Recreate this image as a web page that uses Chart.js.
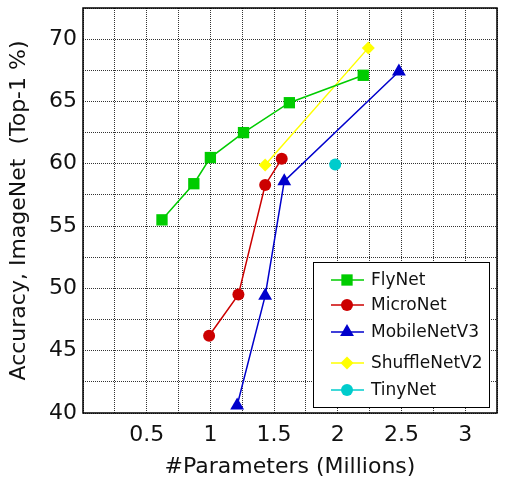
<!DOCTYPE html>
<html>
<head>
<meta charset="utf-8">
<script src="https://cdn.jsdelivr.net/npm/chart.js@4"></script>
<style>
  html, body { margin: 0; padding: 0; background: #ffffff; }
  #wrap { width: 505px; height: 481px; }
</style>
</head>
<body>
<div id="wrap"><canvas id="chart" width="505" height="481"></canvas></div>
<script>
// Data
const seriesNames = ['FlyNet', 'MicroNet', 'MobileNetV3', 'ShuffleNetV2', 'TinyNet'];

const flynetParams = [0.62, 0.87, 1.0, 1.26, 1.62, 2.2];
const flynetAcc = [55.5, 58.4, 60.5, 62.5, 64.9, 67.1];

const micronetParams = [0.99, 1.22, 1.43, 1.56];
const micronetAcc = [46.2, 49.5, 58.3, 60.4];

const mobilenetParams = [1.21, 1.43, 1.58, 2.48];
const mobilenetAcc = [40.6, 49.4, 58.6, 67.4];

const shufflenetParams = [1.43, 2.24];
const shufflenetAcc = [59.9, 69.3];

const tinynetParams = [1.98];
const tinynetAcc = [59.95];

const xTickLabels = [0.5, 1, 1.5, 2, 2.5, 3];
const yTickLabels = [40, 45, 50, 55, 60, 65, 70];

(function() {
  'use strict';

  const FONT = 'DejaVu Sans';

  function toPoints(xs, ys) {
    return xs.map((x, i) => ({ x: x, y: ys[i] }));
  }

  function makeSeries(label, xs, ys, color, style, radius) {
    return {
      label: label,
      data: toPoints(xs, ys),
      showLine: true,
      borderColor: color,
      backgroundColor: color,
      borderWidth: 1.5,
      pointStyle: style,
      pointRadius: radius,
      pointHoverRadius: radius,
      pointBorderWidth: 0,
      pointBackgroundColor: color,
      tension: 0
    };
  }

  // Frame around the plot area + MATLAB-like legend (line with marker)
  const framePlugin = {
    id: 'frameAndLegend',
    afterDraw(chart) {
      const ctx = chart.ctx;
      const a = chart.chartArea;
      ctx.save();
      ctx.strokeStyle = '#000000';
      ctx.lineWidth = 1.5;
      ctx.strokeRect(a.left, a.top, a.right - a.left, a.bottom - a.top);

      // legend box
      const bx = 313, by = 262, bw = 176, bh = 145;
      ctx.fillStyle = '#ffffff';
      ctx.fillRect(bx, by, bw, bh);
      ctx.lineWidth = 1;
      ctx.strokeRect(bx + 0.5, by + 0.5, bw, bh);

      const rowY = [280, 305, 332, 363, 390];
      ctx.font = '17px "' + FONT + '"';
      ctx.textBaseline = 'middle';
      ctx.textAlign = 'left';
      chart.data.datasets.forEach((ds, i) => {
        const y = rowY[i];
        ctx.strokeStyle = ds.borderColor;
        ctx.lineWidth = 1.5;
        ctx.beginPath();
        ctx.moveTo(331, y);
        ctx.lineTo(364, y);
        ctx.stroke();
        ctx.fillStyle = ds.backgroundColor;
        Chart.helpers.drawPoint(ctx, {
          pointStyle: ds.pointStyle,
          radius: ds.pointRadius,
          rotation: 0,
          borderWidth: 0
        }, 347, y);
        ctx.fillStyle = '#111111';
        ctx.fillText(ds.label, 371, y + 1);
      });
      ctx.restore();
    }
  };

  const gridStyle = {
    color: 'rgba(0,0,0,0.8)',
    lineWidth: 1,
    drawTicks: false
  };

  const ctx = document.getElementById('chart').getContext('2d');
  new Chart(ctx, {
    type: 'scatter',
    data: {
      datasets: [
        makeSeries(seriesNames[0], flynetParams, flynetAcc, '#00cc00', 'rect', 8),
        makeSeries(seriesNames[1], micronetParams, micronetAcc, '#cc0000', 'circle', 6),
        makeSeries(seriesNames[2], mobilenetParams, mobilenetAcc, '#0000cc', 'triangle', 8),
        makeSeries(seriesNames[3], shufflenetParams, shufflenetAcc, '#ffff00', 'rectRot', 6.5),
        makeSeries(seriesNames[4], tinynetParams, tinynetAcc, '#00cccc', 'circle', 6)
      ]
    },
    options: {
      responsive: false,
      animation: false,
      layout: { padding: { top: 7, right: 8, left: 0, bottom: 0 } },
      plugins: {
        legend: { display: false },
        tooltip: { enabled: false }
      },
      scales: {
        x: {
          type: 'linear',
          min: 0,
          max: 3.25,
          afterFit(scale) {
            scale.height = 68;
            scale.paddingLeft = 0;
            scale.paddingRight = 0;
          },
          border: { display: false, dash: [1, 1] },
          grid: Object.assign({}, gridStyle),
          ticks: {
            stepSize: 0.25,
            autoSkip: false,
            maxRotation: 0,
            padding: 9,
            color: '#111111',
            font: { family: FONT, size: 22 },
            callback: (v) => xTickLabels.some(t => Math.abs(t - v) < 1e-6) ? String(v) : ''
          },
          title: {
            display: true,
            text: '#Parameters (Millions)',
            color: '#111111',
            font: { family: FONT, size: 22 },
            padding: { top: 0, bottom: 1 }
          }
        },
        y: {
          type: 'linear',
          min: 40,
          max: 72.5,
          afterFit(scale) {
            scale.width = 83;
            scale.paddingTop = 0;
            scale.paddingBottom = 0;
          },
          border: { display: false, dash: [1, 1] },
          grid: Object.assign({}, gridStyle),
          ticks: {
            stepSize: 2.5,
            autoSkip: false,
            padding: 6,
            color: '#111111',
            font: { family: FONT, size: 22 },
            callback: (v) => yTickLabels.some(t => Math.abs(t - v) < 1e-6) ? String(v) : ''
          },
          title: {
            display: true,
            text: 'Accuracy, ImageNet  (Top-1 %)',
            color: '#111111',
            font: { family: FONT, size: 22 },
            padding: { top: 6, bottom: 0 }
          }
        }
      }
    },
    plugins: [framePlugin]
  });
})();
</script>
</body>
</html>
